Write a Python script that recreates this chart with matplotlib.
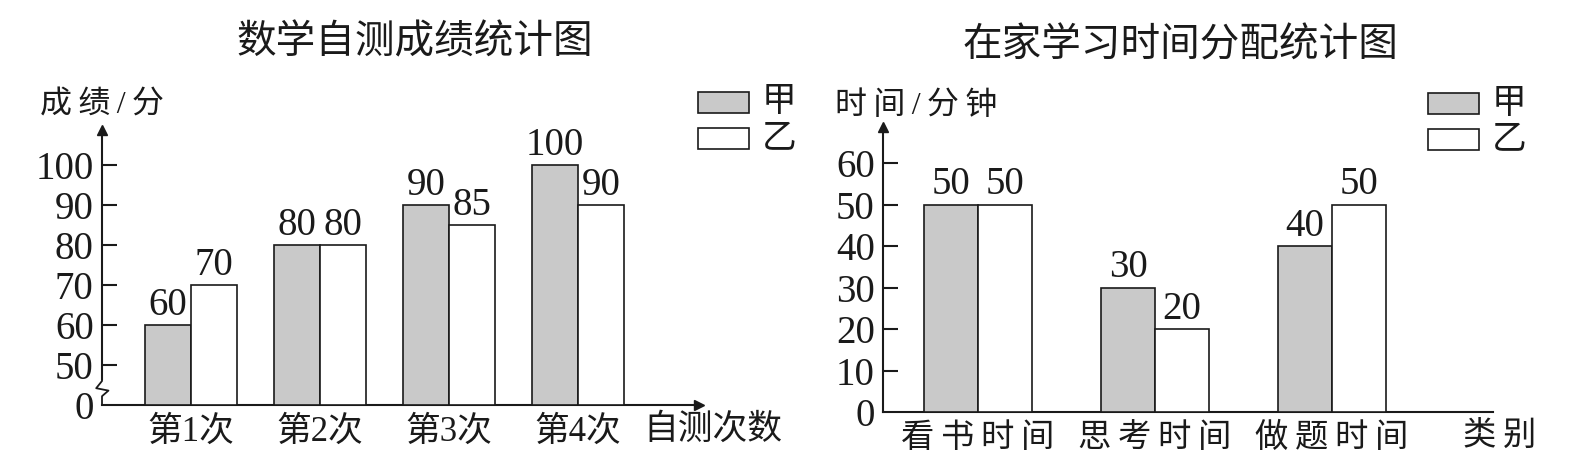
import matplotlib

matplotlib.use("Agg")
import matplotlib.pyplot as plt
from matplotlib.patches import Rectangle

plt.rcParams["font.family"] = ["Liberation Serif", "Noto Sans CJK SC", "DejaVu Sans"]

W, H = 1574, 474
GRAY = "#c9c9c9"
INK = "#1a1a1a"
MIX = ["Liberation Serif", "Noto Sans CJK SC", "DejaVu Sans"]
SANS = ["Noto Sans CJK SC", "DejaVu Sans"]
SP = "\u2009"  # thin space, the print spreads some of its labels

# ── data ─────────────────────────────────────────────
SCORE_CATS = ["第1次", "第2次", "第3次", "第4次"]
SCORE_JIA = [60, 80, 90, 100]
SCORE_YI = [70, 80, 85, 90]
SCORE_TICKS = [40, 50, 60, 70, 80, 90, 100]
SCORE_TICKLABELS = ["0", "50", "60", "70", "80", "90", "100"]

TIME_CATS = ["看书时间", "思考时间", "做题时间"]
TIME_JIA = [50, 30, 40]
TIME_YI = [50, 20, 50]
TIME_TICKS = [0, 10, 20, 30, 40, 50, 60]


def spread(s):
    return SP.join(s)


def px_axes(fig, x0, x1, ytop, ybot):
    return fig.add_axes([x0 / W, (H - ybot) / H, (x1 - x0) / W, (ybot - ytop) / H])


def style(ax, xarrow=True):
    for s in ("top", "right"):
        ax.spines[s].set_visible(False)
    for s in ("left", "bottom"):
        ax.spines[s].set_linewidth(1.5)
        ax.spines[s].set_color(INK)
    ax.tick_params(axis="y", direction="in", length=11, width=1.5, pad=6,
                   labelsize=28, colors=INK)
    ax.tick_params(axis="x", length=0, pad=8, colors=INK)
    ax.plot(0, 1, marker="^", ms=7, color=INK, transform=ax.transAxes, clip_on=False)
    if xarrow:
        ax.plot(1, 0, marker=">", ms=7, color=INK, transform=ax.transAxes, clip_on=False)
    for lab in ax.get_yticklabels():
        lab.set_family(MIX)
    ax.yaxis.get_major_ticks()[0].tick1line.set_visible(False)


def draw_bars(ax, cats, jia, yi, width, base=0, spaced=True, catsize=24):
    x = list(range(len(cats)))
    b1 = ax.bar([i - width / 2 for i in x], [v - base for v in jia], width, bottom=base,
                color=GRAY, edgecolor=INK, linewidth=1.2, zorder=3)
    b2 = ax.bar([i + width / 2 for i in x], [v - base for v in yi], width, bottom=base,
                color="white", edgecolor=INK, linewidth=1.2, zorder=3)
    for bars, vals in ((b1, jia), (b2, yi)):
        ax.bar_label(bars, labels=[str(v) for v in vals], padding=1, fontsize=28,
                     color=INK, family=MIX)
    ax.set_xticks(x)
    ax.set_xticklabels([spread(c) if spaced else c for c in cats],
                       fontsize=catsize, family=MIX)


def legend(fig, x, y):
    for i, (name, fc) in enumerate((("甲", GRAY), ("乙", "white"))):
        yy = y + i * 36
        fig.add_artist(Rectangle((x / W, (H - yy - 21) / H), 51 / W, 21 / H,
                                 facecolor=fc, edgecolor=INK, linewidth=1.2))
        fig.text((x + 64) / W, (H - yy - 11) / H, name, fontsize=25, family=MIX,
                 va="center", ha="left", color=INK)


def label(fig, x, y, s, size=24, ha="left", family=MIX):
    fig.text(x / W, (H - y) / H, s, fontsize=size, family=family,
             ha=ha, va="center", color=INK)


fig = plt.figure(figsize=(W / 100, H / 100), dpi=100)

# ── left: scores (broken axis, 0 drawn at the 40 position) ──
ax1 = px_axes(fig, 102, 699, 130, 405)
draw_bars(ax1, SCORE_CATS, SCORE_JIA, SCORE_YI, 0.357, base=40, spaced=False, catsize=25)
ax1.set_xlim(-0.69, 3.94)
ax1.set_ylim(40, 108.75)
ax1.set_yticks(SCORE_TICKS)
ax1.set_yticklabels(SCORE_TICKLABELS)
style(ax1)
# axis break mark
x0 = -0.69
ax1.spines["left"].set_bounds(46.5, 108.75)
ax1.plot([x0, x0, x0 - 0.045, x0 + 0.05, x0, x0], [46.5, 46.0, 44.2, 43.6, 42.2, 40],
         color=INK, lw=1.3, clip_on=False, zorder=4)

label(fig, 415, 42, "数学自测成绩统计图", size=28.5, ha="center", family=SANS)
label(fig, 40, 106, spread("成绩/分"), size=23)
label(fig, 643, 430, "自测次数", size=25)
legend(fig, 698, 92)

# ── right: study time ──
ax2 = px_axes(fig, 883, 1493, 127, 412)
draw_bars(ax2, TIME_CATS, TIME_JIA, TIME_YI, 0.305)
ax2.set_xlim(-0.537, 2.91)
ax2.set_ylim(0, 68.7)
ax2.set_yticks(TIME_TICKS)
style(ax2, xarrow=False)

label(fig, 1180, 45, "在家学习时间分配统计图", size=28.5, ha="center", family=SANS)
label(fig, 835, 106, spread("时间/分钟"), size=23)
label(fig, 1463, 436, spread("类别"))
legend(fig, 1428, 93)

fig.savefig("out.png", dpi=100, facecolor="white")
